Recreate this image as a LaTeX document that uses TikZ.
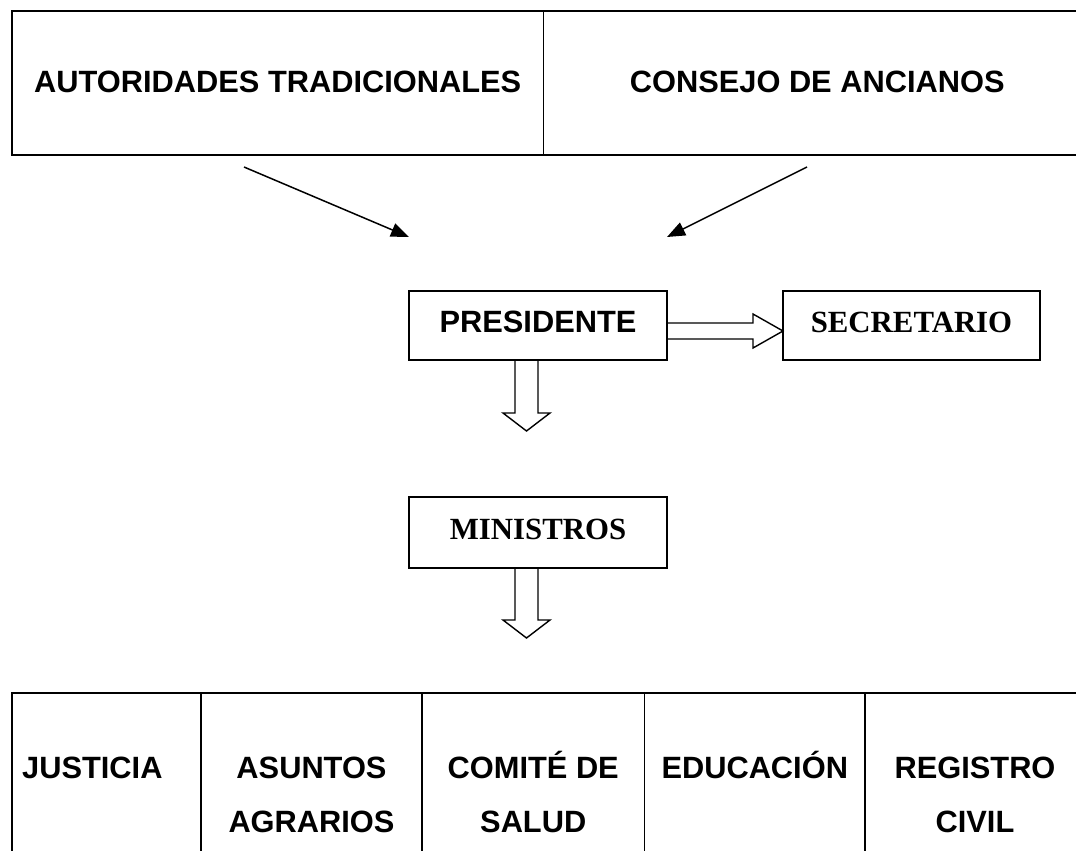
\documentclass[tikz,border=0pt]{standalone}
\usepackage{fontspec}
\setmainfont{Liberation Serif}
\setsansfont{Liberation Sans}
\usepackage{tikz}
\usetikzlibrary{calc}
\usetikzlibrary{positioning,arrows.meta}

\tikzset{
	cell/.style={draw,line width=1.7pt,inner sep=0pt,outer sep=0pt},
	frame/.style={draw,line width=2.8pt},
	box/.style={draw,line width=1.4pt,inner sep=0pt,outer sep=0pt,minimum width=258pt,minimum height=69pt,text height=22pt,text depth=9pt},
	arial/.style={font=\sffamily\bfseries\fontsize{30.8}{54}\selectfont},
	times/.style={font=\rmfamily\bfseries\fontsize{30.8}{54}\selectfont},
	hollow/.style={line width=1.4pt,line join=miter},
	link/.style={line width=1.5pt,-{Triangle[length=18pt,width=14pt]}}
}

\begin{document}
\begin{tikzpicture}[x=1pt,y=-1pt]
		\useasboundingbox (0,0) rectangle (1076,851);
		% top table
		\node[cell,arial,minimum width=531.5pt,minimum height=144pt,text height=22pt,text depth=3pt] (auto) at (277.75,83) {AUTORIDADES TRADICIONALES};
		\node[cell,arial,minimum width=547.5pt,minimum height=144pt,text height=22pt,text depth=3pt,right=0pt of auto] (cons) {CONSEJO DE ANCIANOS};
		\draw[frame] (auto.north west) rectangle (cons.south east);
		% boxes
		\node[box,arial] (pres) at (538,325.5) {PRESIDENTE};
		\node[box,times,minimum width=257pt] (sec) at (911.5,325.5) {SECRETARIO};
		\node[box,times,minimum height=71pt] (min) at (538,532.5) {MINISTROS};
		% thin arrows
		\coordinate (a1) at ($(auto.south)+(-33.75,12)$);
		\coordinate (a2) at ($(cons.south)+(-10.25,12)$);
		\coordinate (p1) at ($(pres.north)+(-129,-54)$);
		\coordinate (p2) at ($(pres.north)+(129,-54)$);
		\draw[link] (a1) -- (p1);
		\draw[link] (a2) -- (p2);
		% hollow arrows
		\draw[hollow] ($(pres.east)+(0,-2.5)$) -- ($(sec.west)+(-30,-2.5)$) -- ++(0,-9) -- ($(sec.west)+(0,5.5)$) -- ($(sec.west)+(-30,22.5)$) -- ++(0,-9) -- ($(pres.east)+(0,13.5)$);
		\draw[hollow] (pres.south) -- ++(0,53) -- ++(12,0) -- ++(-23.5,18) -- ++(-23.5,-18) -- ++(12,0) -- ++(0,-53);
		\draw[hollow] (min.south) -- ++(0,52) -- ++(12,0) -- ++(-23.5,18) -- ++(-23.5,-18) -- ++(12,0) -- ++(0,-52);
		% bottom table
		\node[cell,minimum width=189pt,minimum height=207pt] (just) at (106.5,796.5) {};
		\node[cell,minimum width=221pt,minimum height=207pt,right=0pt of just] (asun) {};
		\node[cell,minimum width=222.5pt,minimum height=207pt,right=0pt of asun] (comi) {};
		\node[cell,minimum width=220.5pt,minimum height=207pt,right=0pt of comi] (educ) {};
		\node[cell,minimum width=220pt,minimum height=207pt,right=0pt of educ] (regi) {};
		\draw[frame] (just.north west) rectangle (regi.south east);
		\node[arial,anchor=base west,inner sep=0pt] (just1) at ($(just.north west)+(10,85)$) {JUSTICIA};
		\node[arial,anchor=base,inner sep=0pt] (asun1) at ($(asun.north)+(0,85)$) {ASUNTOS};
		\node[arial,anchor=base,inner sep=0pt] (asun2) at ($(asun.north)+(0,139)$) {AGRARIOS};
		\node[arial,anchor=base,inner sep=0pt] (comi1) at ($(comi.north)+(0,85)$) {COMITÉ DE};
		\node[arial,anchor=base,inner sep=0pt] (comi2) at ($(comi.north)+(0,139)$) {SALUD};
		\node[arial,anchor=base,inner sep=0pt] (educ1) at ($(educ.north)+(0,85)$) {EDUCACIÓN};
		\node[arial,anchor=base,inner sep=0pt] (regi1) at ($(regi.north)+(0,85)$) {REGISTRO};
		\node[arial,anchor=base,inner sep=0pt] (regi2) at ($(regi.north)+(0,139)$) {CIVIL};
	\end{tikzpicture}
\end{document}
